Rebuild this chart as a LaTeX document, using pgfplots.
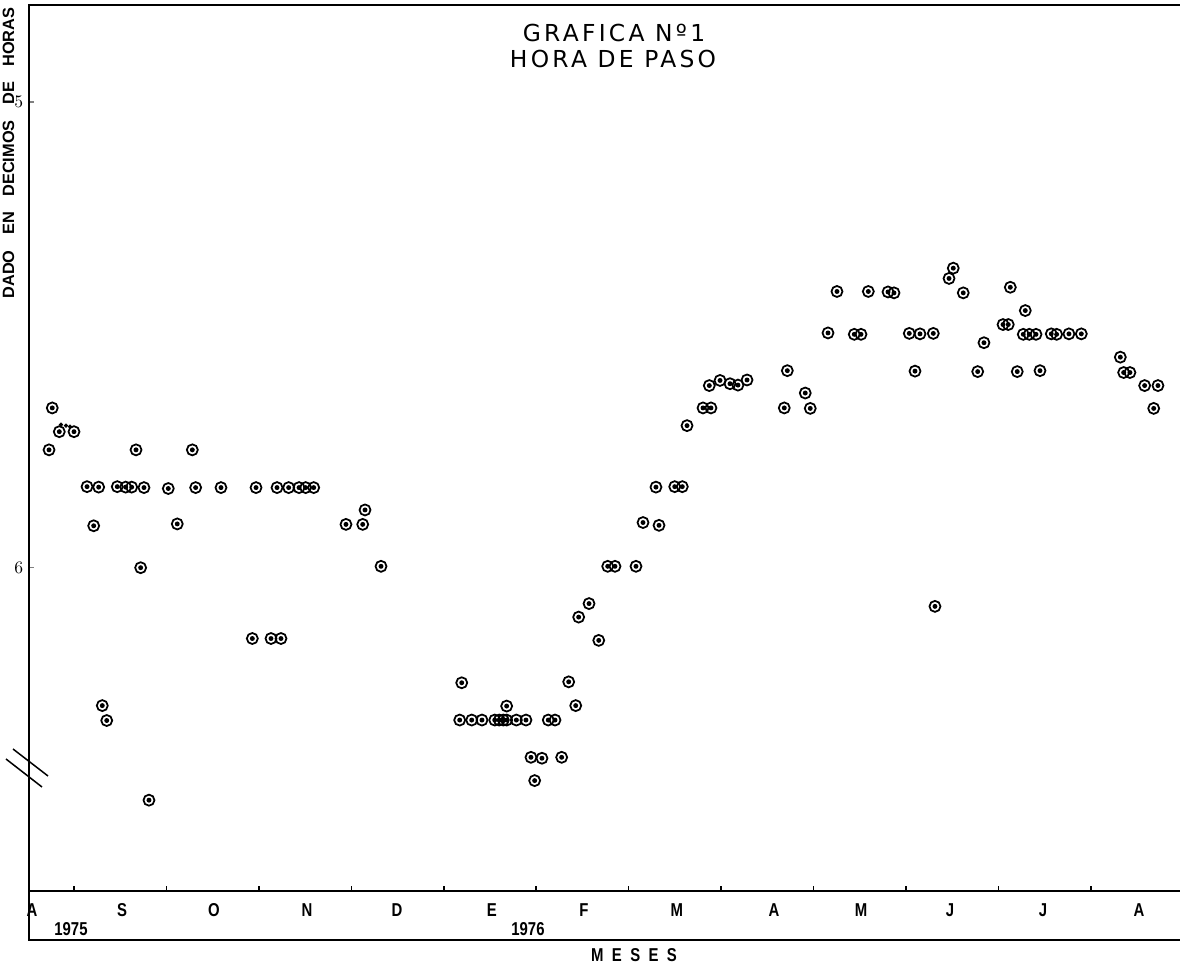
\documentclass[border=0pt]{standalone}
\usepackage{fontspec}
\setmainfont{Liberation Sans}
\newfontfamily\titlefont[LetterSpace=14]{DejaVu Sans}
\newfontfamily\labfont[FakeStretch=0.8]{Liberation Sans}
\usepackage{pgfplots}
\usepackage{pgfplotstable}
\pgfplotsset{compat=1.18}

% circle with a dot in the middle
\pgfdeclareplotmark{odot}{%
  \pgfpathcircle{\pgfpointorigin}{\pgfplotmarksize}\pgfusepathqstroke
  \pgfpathcircle{\pgfpointorigin}{0.45\pgfplotmarksize}\pgfusepathqfill}

% m = months (1 = 1 Sep 1975), v = hour (decimal)
\pgfplotstableread{
m v
0.730 5.747
0.765 5.657
0.841 5.708
1.000 5.708
1.141 5.826
1.213 5.910
1.267 5.827
1.306 6.296
1.354 6.328
1.468 5.826
1.559 5.827
1.624 5.827
1.671 5.747
1.721 6.000
1.757 5.828
1.811 6.499
2.020 5.830
2.117 5.906
2.280 5.747
2.316 5.828
2.590 5.828
2.929 6.152
2.969 5.828
3.131 6.152
3.196 5.828
3.239 6.152
3.322 5.828
3.434 5.828
3.506 5.828
3.593 5.828
3.942 5.907
4.123 5.907
4.148 5.876
4.321 5.997
5.172 6.327
5.194 6.247
5.302 6.327
5.413 6.327
5.551 6.327
5.600 6.327
5.644 6.327
5.680 6.297
5.680 6.327
5.785 6.327
5.889 6.327
5.943 6.407
5.983 6.457
6.062 6.409
6.130 6.327
6.203 6.327
6.275 6.407
6.351 6.245
6.427 6.296
6.459 6.106
6.571 6.077
6.676 6.156
6.773 5.997
6.852 5.997
7.079 5.997
7.155 5.903
7.295 5.827
7.328 5.909
7.498 5.826
7.580 5.826
7.631 5.695
7.804 5.657
7.872 5.609
7.890 5.657
7.988 5.598
8.096 5.605
8.182 5.608
8.280 5.597
8.683 5.657
8.716 5.577
8.910 5.625
8.964 5.658
9.156 5.496
9.253 5.407
9.440 5.499
9.513 5.499
9.592 5.407
9.805 5.408
9.870 5.410
10.035 5.497
10.097 5.578
10.151 5.498
10.295 5.497
10.313 6.083
10.465 5.379
10.511 5.357
10.619 5.410
10.775 5.579
10.843 5.517
11.049 5.478
11.106 5.478
11.128 5.398
11.203 5.579
11.268 5.499
11.290 5.448
11.333 5.499
11.406 5.499
11.449 5.577
11.571 5.498
11.629 5.499
11.762 5.498
11.896 5.498
12.318 5.548
12.354 5.581
12.422 5.581
12.581 5.609
12.679 5.658
12.725 5.609
}\datos

\pgfplotstableread{
m v
0.859 5.693
0.913 5.695
0.957 5.697
}\puntos

\begin{document}
\begin{tikzpicture}[x=0.2mm,y=0.2mm]
\useasboundingbox (0,0) rectangle (1180,968);
\clip (0,0) rectangle (1180,968);
\begin{axis}[
    at={(5.8mm,192.6mm)}, anchor=north west,
    scale only axis,
    width=234.2mm, height=177.2mm,
    xmin=0.5133, xmax=13.18,
    ymin=4.792, ymax=6.694,
    y dir=reverse,
    axis line style={line width=0.35mm},
    xtick={0.546,1.519,2.514,3.520,4.494,5.521,6.516,7.522,8.572,9.513,10.475,11.481,12.520},
    xticklabels={A,S,O,N,D,E,F,M,A,M,J,J,A},
    xtick style={draw=none},
    xticklabel style={font=\labfont\bfseries\fontsize{10.6}{12}\selectfont,
        anchor=north, inner sep=0pt, text height=2.6mm, text depth=0pt, yshift=-2.4mm},
    extra x ticks={1,2,3,4,5,6,7,8,9,10,11,12},
    extra x tick labels={},
    extra x tick style={xtick style={draw=black, line width=0.3mm}, major tick length=1mm},
    minor xtick={10.497,11.49},
    minor tick length=0.6mm,
    xtick pos=lower, ytick pos=left,
    tick align=inside,
    ytick={5,6},
    ytick style={line width=0.3mm},
    major tick length=1mm,
    yticklabel style={font=\fontsize{10.2}{12}\selectfont, inner sep=0pt, xshift=-1.1mm},
    clip=false,
]
\addplot[only marks, mark=odot, mark size=1.1mm, line width=0.35mm, black] table[x=m, y=v] {\datos};
\addplot[only marks, mark=*, mark size=0.35mm, black] table[x=m, y=v] {\puntos};
\end{axis}

% label strip below the month axis
\draw[line width=0.35mm] (29,77) -- (29,28) -- (1185,28);
\node[font=\labfont\bfseries\fontsize{10.6}{12}\selectfont, inner sep=0pt] at (71,39) {1975};
\node[font=\labfont\bfseries\fontsize{10.6}{12}\selectfont, inner sep=0pt] at (528,39) {1976};
\node[font=\labfont\bfseries\fontsize{10.6}{12}\selectfont, inner sep=0pt] at (634,13)
  {M\hspace{0.45em}E\hspace{0.45em}S\hspace{0.45em}E\hspace{0.45em}S};

% axis break
\draw[line width=0.3mm] (13,219) -- (48,192);
\draw[line width=0.3mm] (6,209) -- (42,181);

% y label
\node[rotate=90, font=\bfseries\fontsize{9.3}{11}\selectfont, inner sep=0pt] at (8.5,815)
  {DADO\hspace{0.95em}EN\hspace{0.95em}DECIMOS\hspace{0.95em}DE\hspace{0.95em}HORAS};

% title
\node[font=\titlefont\fontsize{13.3}{16}\selectfont, inner sep=0pt, anchor=base] at (614,926) {GRAFICA Nº1};
\node[font=\titlefont\fontsize{13.3}{16}\selectfont, inner sep=0pt, anchor=base] at (613,900) {HORA DE PASO};
\end{tikzpicture}
\end{document}
